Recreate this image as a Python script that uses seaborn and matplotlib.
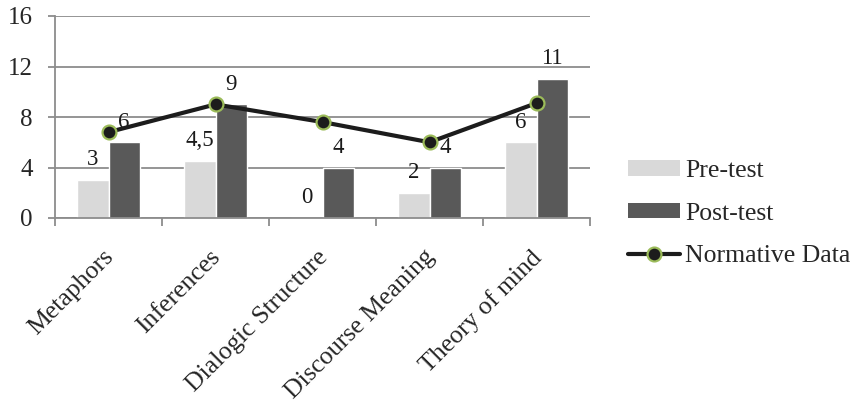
import matplotlib
matplotlib.use("Agg")
import matplotlib.pyplot as plt
import matplotlib.transforms as mtransforms
import seaborn as sns
import pandas as pd
import numpy as np
from matplotlib.patches import Patch
from matplotlib.lines import Line2D

categories = ["Metaphors", "Inferences", "Dialogic Structure", "Discourse Meaning", "Theory of mind"]
pre_test = [3, 4.5, 0, 2, 6]
post_test = [6, 9, 4, 4, 11]
normative = [6.8, 9.0, 7.6, 6.0, 9.1]
y_ticks = [0, 4, 8, 12, 16]

PRE_COLOR = "#d9d9d9"
POST_COLOR = "#595959"
LINE_COLOR = "#1c1c1c"
EDGE_GREEN = "#9bbb59"
GRID_COLOR = "#8c8c8c"

sns.set_theme(style="white")
plt.rcParams["font.family"] = ["Liberation Serif", "DejaVu Serif"]

bars = pd.DataFrame({
    "category": categories * 2,
    "score": pre_test + post_test,
    "test": ["Pre-test"] * len(categories) + ["Post-test"] * len(categories),
})
norm_df = pd.DataFrame({"category": categories, "score": normative})

fig = plt.figure(figsize=(8.6, 4.08), dpi=100)
ax = fig.add_axes([55 / 860, 1 - 218 / 408, 535 / 860, 202 / 408])

sns.barplot(data=bars, x="category", y="score", hue="test",
            palette={"Pre-test": PRE_COLOR, "Post-test": POST_COLOR},
            width=0.58, gap=0, saturation=1, ax=ax, legend=False, zorder=2)

def fmt(v):
    s = f"{v:g}"
    return s.replace(".", ",")

for cont, vals in zip(ax.containers, [pre_test, post_test]):
    ax.bar_label(cont, labels=[fmt(v) for v in vals], padding=7,
                 fontsize=16.5, color="#1a1a1a")

sns.pointplot(data=norm_df, x="category", y="score", ax=ax,
              color=LINE_COLOR, markers="o", linestyles="-",
              markersize=10, markerfacecolor=LINE_COLOR,
              markeredgecolor=EDGE_GREEN, markeredgewidth=1.6,
              linewidth=3, zorder=4)

ax.set_xlim(-0.5, len(categories) - 0.5)
ax.set_ylim(0, 16)
ax.set_yticks(y_ticks)
ax.yaxis.grid(True, color=GRID_COLOR, linewidth=1.3, zorder=0)
ax.set_axisbelow(True)
ax.set_xlabel("")
ax.set_ylabel("")

for side in ["top", "right"]:
    ax.spines[side].set_visible(False)
for side in ["left", "bottom"]:
    ax.spines[side].set_color(GRID_COLOR)
    ax.spines[side].set_linewidth(1.3)

ax.tick_params(axis="y", which="major", length=5, width=1.3, color=GRID_COLOR,
               labelsize=18, pad=11, left=True)
ax.set_xticks(range(len(categories)))
ax.set_xticklabels(categories, rotation=45, ha="right", rotation_mode="anchor",
                   fontsize=18.5)
ax.tick_params(axis="x", which="major", length=0, pad=10)
ax.set_xticks(np.arange(-0.5, len(categories)), minor=True)
ax.tick_params(axis="x", which="minor", length=6, width=1.3, color=GRID_COLOR,
               bottom=True)

# nudge rotated category labels so their upper ends sit just under each group
shift = mtransforms.ScaledTranslation(-6 / 100, -14 / 100, fig.dpi_scale_trans)
for lbl in ax.get_xticklabels():
    lbl.set_transform(lbl.get_transform() + shift)

handles = [
    Patch(facecolor=PRE_COLOR, edgecolor="none", label="Pre-test"),
    Patch(facecolor=POST_COLOR, edgecolor="none", label="Post-test"),
    Line2D([0], [0], color=LINE_COLOR, linewidth=3, marker="o", markersize=10,
           markerfacecolor=LINE_COLOR, markeredgecolor=EDGE_GREEN,
           markeredgewidth=1.6, label="Normative Data"),
]
fig.legend(handles=handles, loc="center left",
           bbox_to_anchor=(628 / 860, 1 - 213.5 / 408), frameon=False,
           fontsize=18.5, handlelength=2.02, handleheight=0.55,
           handletextpad=0.2, labelspacing=0.8, borderaxespad=0,
           borderpad=0)

fig.savefig("out.png", dpi=100)
